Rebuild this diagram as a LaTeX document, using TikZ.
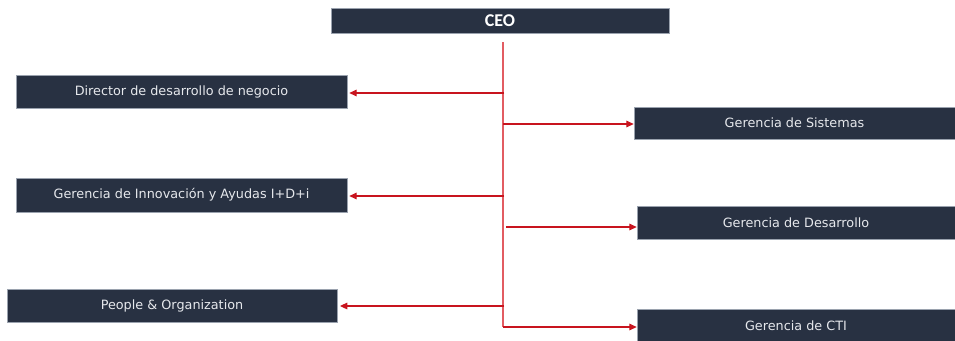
\documentclass[tikz,border=0pt]{standalone}
\usepackage{fontspec}
\setmainfont{DejaVu Sans}
\newfontfamily\ceofont{Carlito}
\usetikzlibrary{arrows.meta}
\definecolor{boxfill}{HTML}{283142}
\definecolor{boxline}{HTML}{9AA2AE}
\definecolor{boxtext}{HTML}{E6E8EC}
\definecolor{arrred}{HTML}{C8141E}
\definecolor{trunkred}{HTML}{E25C62}
\tikzset{
  orgbox/.style={rectangle, fill=boxfill, draw=boxline, line width=0.5pt, inner sep=0pt,
    text=boxtext, font=\fontsize{9.6}{11}\selectfont},
  ceobox/.style={orgbox, font=\ceofont\bfseries\fontsize{13.5}{15}\selectfont, text=white},
  arr/.style={draw=arrred, line width=0.8pt, -{Triangle[length=5.5pt,width=5pt]}},
  trunk/.style={draw=trunkred, line width=0.8pt}
}
\begin{document}
\begin{tikzpicture}[x=0.75pt,y=-0.75pt]
\useasboundingbox (0,0) rectangle (955,340);
% boxes
\node[ceobox, minimum width=253.5pt, minimum height=18.75pt] (ceo) at (500,20.5) {CEO};
\node[orgbox, minimum width=248.25pt, minimum height=24.75pt] (dir) at (181.5,91.5) {Director de desarrollo de negocio};
\node[orgbox, minimum width=248.25pt, minimum height=25.5pt] (inn) at (181.5,195) {Gerencia de Innovación y Ayudas I+D+i};
\node[orgbox, minimum width=247.5pt, minimum height=24.75pt] (peo) at (172,305.5) {People \& Organization};
\node[orgbox, minimum width=240.75pt, minimum height=24pt] (sis) at (794.5,123) {Gerencia de Sistemas};
\node[orgbox, minimum width=238.5pt, minimum height=24.75pt] (des) at (796,222.5) {Gerencia de Desarrollo};
\node[orgbox, minimum width=238.5pt, minimum height=24.75pt] (cti) at (796,325.5) {Gerencia de CTI};
% trunk
\coordinate (ttop) at (503,42);
\coordinate (tbot) at (503,327);
\draw[trunk] (ttop) -- (tbot);
% branch points
\coordinate (b1) at (504,93);
\coordinate (b2) at (503,124);
\coordinate (b3) at (504,196);
\coordinate (b4) at (506,227);
\coordinate (b5) at (504,306);
\coordinate (b6) at (503,327);
\draw[arr] (b1) -- ([xshift=1.5pt]b1 -| dir.east);
\draw[arr] (b2) -- (b2 -| sis.west);
\draw[arr] (b3) -- ([xshift=1.5pt]b3 -| inn.east);
\draw[arr] (b4) -- (b4 -| des.west);
\draw[arr] (b5) -- ([xshift=2pt]b5 -| peo.east);
\draw[arr] (b6) -- (b6 -| cti.west);
\end{tikzpicture}
\end{document}
